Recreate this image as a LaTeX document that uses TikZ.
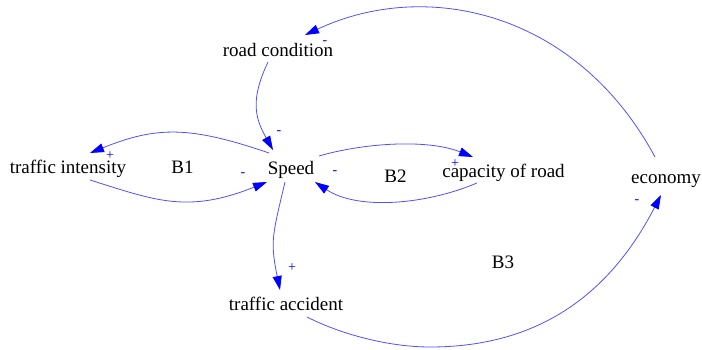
\documentclass[tikz,border=0pt]{standalone}
\usepackage{fontspec}
\setmainfont{Liberation Serif}
\usetikzlibrary{arrows.meta}
\definecolor{linkblue}{RGB}{80,80,255}
\begin{document}
\begin{tikzpicture}[x=1pt,y=1pt,
  var/.style={anchor=base, inner sep=0pt, font=\fontsize{19}{22}\selectfont},
  link/.style={draw=linkblue, line width=0.8pt, -{Triangle[length=14pt,width=9pt,color=blue,fill=blue]}},
  sign/.style={text=blue, font=\fontsize{14}{16}\selectfont, inner sep=0pt}]
\useasboundingbox (0,0) rectangle (702,349);
\node[var] (road) at (278,293) {road condition};
\node[var] (ti) at (68,176) {traffic intensity};
\node[var] (speed) at (291,174.5) {Speed};
\node[var] (cap) at (503.5,172) {capacity of road};
\node[var] (econ) at (666,166) {economy};
\node[var] (acc) at (286,39) {traffic accident};
\node[var] (b1) at (182.5,176) {B1};
\node[var] (b2) at (395.5,167) {B2};
\node[var] (b3) at (503,81) {B3};

\draw[link] ([shift={(-11,26)}]econ.base) .. controls (577,337) and (427,371) .. ([shift={(27,21)}]road.base);
\draw[link] ([shift={(-10,-6)}]road.base) .. controls (250,249) and (255,231) .. ([shift={(-18,24.5)}]speed.base);
\draw[link] ([shift={(-22,21.5)}]speed.base) .. controls (190,223) and (157,223) .. ([shift={(22,20)}]ti.base);
\draw[link] ([shift={(22,-7)}]ti.base) .. controls (156.5,148) and (188,135.5) .. ([shift={(-24,-7.5)}]speed.base);
\draw[link] ([shift={(28,18.5)}]speed.base) .. controls (362,205.6) and (426.5,210.5) .. ([shift={(-30.5,20)}]cap.base);
\draw[link] ([shift={(-26.5,-6)}]cap.base) .. controls (426.4,144.5) and (358,138.4) .. ([shift={(24,-7.5)}]speed.base);
\draw[link] ([shift={(-6,-7.5)}]speed.base) .. controls (272.4,113.6) and (270,108) .. ([shift={(-6,20)}]acc.base);
\draw[link] ([shift={(21,-7)}]acc.base) .. controls (342.6,14) and (390,2) .. (430,2) .. controls (540,2) and (610.4,56.1) .. ([shift={(-5,-12)}]econ.base);

\node[sign] (s1) at (325,306) {-};
\node[sign] (s2) at (279,216) {-};
\node[sign] (s3) at (110,193) {+};
\node[sign] (s4) at (243,174) {-};
\node[sign] (s5) at (455,185) {+};
\node[sign] (s6) at (335,176) {-};
\node[sign] (s7) at (292,81) {+};
\node[sign] (s8) at (637,147) {-};
\end{tikzpicture}
\end{document}
